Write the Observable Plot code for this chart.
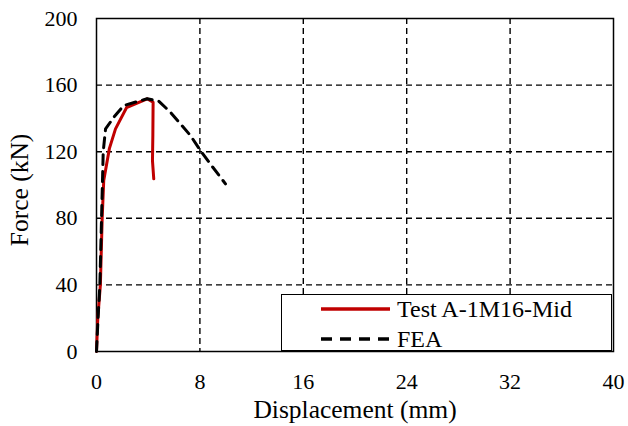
<!DOCTYPE html>
<html><head><meta charset="utf-8">
<script src="https://cdn.jsdelivr.net/npm/d3@7"></script>
<script src="https://cdn.jsdelivr.net/npm/@observablehq/plot@0.6"></script>
<style>
body{margin:0;background:#fff;}
#wrap{position:relative;width:628px;height:426px;font-family:"Liberation Serif",serif;}
#chart svg, #chart svg text{font-family:"Liberation Serif",serif !important;}
#legend{position:absolute;left:281px;top:294px;width:331px;height:57px;border:1.5px solid #000;background:#fff;box-sizing:border-box;}
</style>
</head><body>
<div id="wrap"><div id="chart"></div><div id="legend"></div></div>
<script>
const testDisp  = [0, 0.1, 0.3, 0.44, 0.56, 1.0, 1.47, 2.32, 3.92, 4.38, 4.36, 4.33, 4.43];
const testForce = [0, 20, 40, 80, 102.7, 122, 133.7, 146.4, 151.8, 149.7, 130, 114.7, 103.7];
const feaDisp   = [0, 0.12, 0.26, 0.39, 0.52, 0.7, 1.34, 2.1, 3.92, 4.82, 5.72, 7.27, 8.04, 8.8, 9.98];
const feaForce  = [0, 20, 40, 80, 120, 133.7, 140.7, 147.7, 151.8, 150.3, 143.7, 129.7, 120.7, 112.7, 100.7];
const xTicks = [0, 8, 16, 24, 32, 40];
const yTicks = [0, 40, 80, 120, 160, 200];
const seriesNames = ["Test A-1M16-Mid", "FEA"];
const seriesColors = ["#C00000", "#000000"];

const test = testDisp.map((d,i)=>({x:d, y:testForce[i]}));
const fea = feaDisp.map((d,i)=>({x:d, y:feaForce[i]}));
const ff = "Liberation Serif";

const chart = Plot.plot({
  width: 628, height: 426,
  marginLeft: 96, marginRight: 15, marginTop: 18, marginBottom: 75,
  style: {fontFamily: ff, fontSize: "22px", color: "#000", background: "#fff"},
  x: {domain: [0, 40], ticks: xTicks, label: null},
  y: {domain: [0, 200], ticks: yTicks, label: null},
  marks: [
    Plot.gridX(xTicks.slice(1, -1), {stroke: "#000", strokeOpacity: 1, strokeWidth: 1.4, strokeDasharray: "6,4"}),
    Plot.gridY(yTicks.slice(1, -1), {stroke: "#000", strokeOpacity: 1, strokeWidth: 1.4, strokeDasharray: "6,4"}),
    Plot.frame({stroke: "#000", strokeWidth: 1.5}),
    Plot.axisX(xTicks, {tickSize: 0, tickPadding: 22, fontSize: 22, fontFamily: ff}),
    Plot.axisY(yTicks, {tickSize: 0, tickPadding: 19, fontSize: 22, fontFamily: ff}),
    Plot.line(test, {x: "x", y: "y", stroke: seriesColors[0], strokeWidth: 3}),
    Plot.line(fea, {x: "x", y: "y", stroke: seriesColors[1], strokeWidth: 3, strokeDasharray: "10,7"}),
    Plot.text(["Displacement (mm)"], {frameAnchor: "bottom", lineAnchor: "middle", textAnchor: "middle", dy: 58, fontSize: 25.5, fontFamily: ff, text: d => d}),
    Plot.text(["Force (kN)"], {frameAnchor: "left", lineAnchor: "middle", textAnchor: "middle", dx: -77, dy: 5, rotate: -90, fontSize: 25.5, fontFamily: ff, text: d => d})
  ]
});
document.getElementById("chart").appendChild(chart);

const lg = document.getElementById("legend");
lg.innerHTML = seriesNames.map((n,i)=>`
  <div style="position:absolute;left:39px;top:${i===0?1:31}px;height:26px;display:flex;align-items:center;">
    <svg width="70" height="10"><line x1="0" y1="5" x2="69" y2="5" stroke="${seriesColors[i]}" stroke-width="3.5" ${i===1?'stroke-dasharray="11,8"':''}/></svg>
    <span style="font-size:24px;margin-left:6px;color:#000;">${n}</span>
  </div>`).join("");
</script>
</body></html>
